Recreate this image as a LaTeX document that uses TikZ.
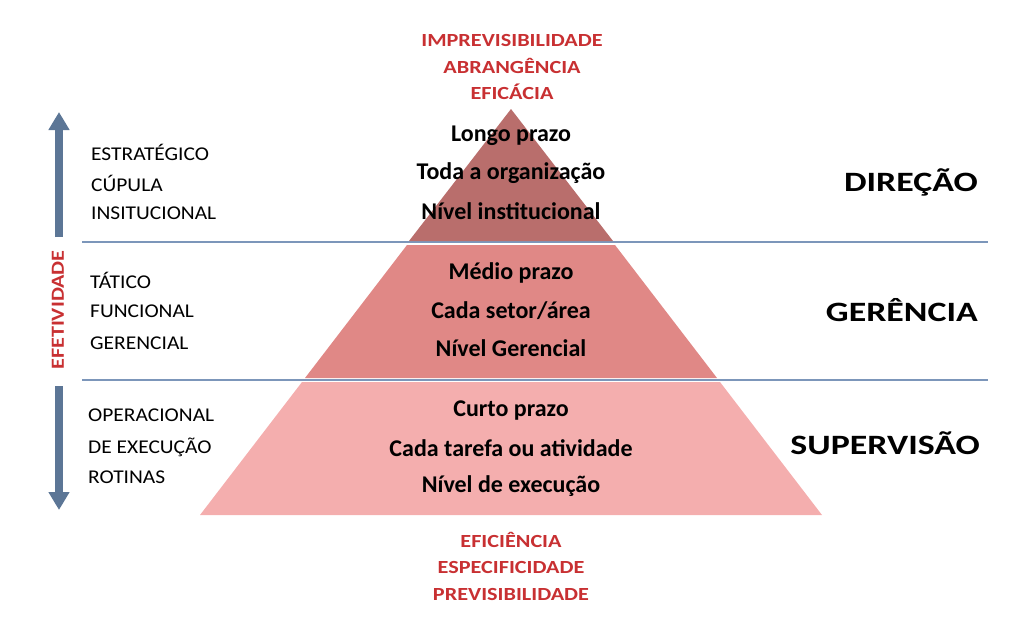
\documentclass[tikz,border=0pt]{standalone}
\usepackage{fontspec}
\usepackage{graphicx}
\setmainfont{Carlito}
\usetikzlibrary{arrows.meta}
\definecolor{topc}{RGB}{185,110,108}
\definecolor{midc}{RGB}{224,136,134}
\definecolor{botc}{RGB}{244,174,174}
\definecolor{redt}{RGB}{200,48,50}
\definecolor{linec}{RGB}{124,150,186}
\definecolor{arrc}{RGB}{92,118,150}
\newcommand{\lt}[1]{\scalebox{1.1}[1]{#1}}
\newcommand{\rt}[1]{\scalebox{1.2}[1]{#1}}
\newcommand{\bt}[1]{\scalebox{1.28}[1]{#1}}
\tikzset{
  lefttxt/.style={anchor=west, inner sep=0pt, font=\fontsize{19.5}{22}\selectfont},
  midtxt/.style={anchor=center, inner sep=0pt, font=\fontsize{24}{26}\selectfont\bfseries},
  redtxt/.style={anchor=center, inner sep=0pt, text=redt, font=\fontsize{18.5}{20}\selectfont\bfseries},
  righttxt/.style={anchor=east, inner sep=0pt, font=\fontsize{28}{30}\selectfont\bfseries},
  sepline/.style={draw=linec, line width=1.3pt},
  bigarrow/.style={draw=arrc, line width=8pt, -{Triangle[width=20pt,length=18pt]}}
}
\begin{document}
\begin{tikzpicture}[x=1pt,y=-1pt]
\useasboundingbox (0,0) rectangle (1032,626);
% separator lines
\coordinate (l1a) at (82,242); \coordinate (l1b) at (988,242);
\coordinate (l2a) at (82,380); \coordinate (l2b) at (988,380);
\draw[sepline] (l1a) -- (l1b);
\draw[sepline] (l2a) -- (l2b);
% pyramid
\fill[topc] (511,109) -- (613,241) -- (409,241) -- cycle;
\fill[midc] (407,245) -- (615,245) -- (717,378) -- (305,378) -- cycle;
\fill[botc] (302,382) -- (720,382) -- (822,515) -- (200,515) -- cycle;
% arrows
\coordinate (ua) at (59,237); \coordinate (ub) at (59,112);
\coordinate (da) at (59,386); \coordinate (db) at (59,510);
\draw[bigarrow] (ua) -- (ub);
\draw[bigarrow] (da) -- (db);
\node[rotate=90, inner sep=0pt, text=redt, font=\fontsize{18.5}{20}\selectfont\bfseries] (efet) at (58,310) {\rt{EFETIVIDADE}};
% left labels
\node[lefttxt] (e1) at (91,152) {\lt{ESTRATÉGICO}};
\node[lefttxt] (e2) at (91,183) {\lt{CÚPULA}};
\node[lefttxt] (e3) at (91,213) {\lt{INSITUCIONAL}};
\node[lefttxt] (t1) at (90,280) {\lt{TÁTICO}};
\node[lefttxt] (t2) at (90,311) {\lt{FUNCIONAL}};
\node[lefttxt] (t3) at (90,343) {\lt{GERENCIAL}};
\node[lefttxt] (o1) at (88,415) {\lt{OPERACIONAL}};
\node[lefttxt] (o2) at (88,447) {\lt{DE EXECUÇÃO}};
\node[lefttxt] (o3) at (88,477) {\lt{ROTINAS}};
% pyramid texts
\node[midtxt] (p1) at (511,136) {Longo prazo};
\node[midtxt] (p2) at (511,173) {Toda a organização};
\node[midtxt] (p3) at (511,211) {Nível institucional};
\node[midtxt] (p4) at (511,273) {Médio prazo};
\node[midtxt] (p5) at (511,311) {Cada setor/área};
\node[midtxt] (p6) at (511,348) {Nível Gerencial};
\node[midtxt] (p7) at (511,411) {Curto prazo};
\node[midtxt] (p8) at (511,448) {Cada tarefa ou atividade};
\node[midtxt] (p9) at (511,486) {Nível de execução};
% red texts
\node[redtxt] (r1) at (512,40) {\rt{IMPREVISIBILIDADE}};
\node[redtxt] (r2) at (512,66) {\rt{ABRANGÊNCIA}};
\node[redtxt] (r3) at (512,92) {\rt{EFICÁCIA}};
\node[redtxt] (r4) at (511,540) {\rt{EFICIÊNCIA}};
\node[redtxt] (r5) at (511,567) {\rt{ESPECIFICIDADE}};
\node[redtxt] (r6) at (511,594) {\rt{PREVISIBILIDADE}};
% right labels
\node[righttxt] (d1) at (978,182) {\bt{DIREÇÃO}};
\node[righttxt] (d2) at (978,310) {\bt{GERÊNCIA}};
\node[righttxt] (d3) at (980,443) {\bt{SUPERVISÃO}};
\end{tikzpicture}
\end{document}
